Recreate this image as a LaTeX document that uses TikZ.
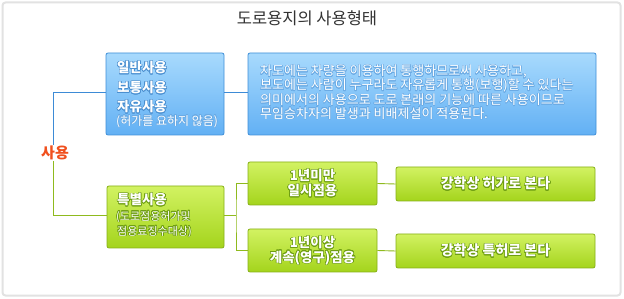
\documentclass[tikz,border=0pt]{standalone}
\usepackage{fontspec}
\setmainfont{Noto Sans CJK KR}
\usepackage[copies]{contour}
\contournumber{16}
\definecolor{bluetop}{HTML}{A8DAFD}
\definecolor{bluebot}{HTML}{62B0F4}
\definecolor{bluebd}{HTML}{3F8FD8}
\definecolor{greentop}{HTML}{D2F262}
\definecolor{greenbot}{HTML}{A4D41C}
\definecolor{greenbd}{HTML}{86B017}
\definecolor{blueln}{HTML}{3D8BD6}
\definecolor{greenln}{HTML}{8FBA1E}
\definecolor{redlab}{HTML}{F0501E}
\definecolor{blueglow}{HTML}{4A8FD0}
\definecolor{bluesoft}{HTML}{6AAAE4}
\definecolor{greenglow}{HTML}{6E9E12}
\definecolor{framegray}{HTML}{E2E2E2}
\definecolor{titlegray}{HTML}{333333}
\newcommand{\bglowtxt}[1]{\contourlength{0.6pt}\contour{blueglow}{#1}}
\newcommand{\bsofttxt}[1]{\contourlength{0.45pt}\contour{bluesoft}{#1}}
\newcommand{\gglowtxt}[1]{\contourlength{0.6pt}\contour{greenglow}{#1}}
\begin{document}
\begin{tikzpicture}[x=1pt,y=-1pt,
  bluebox/.style={draw=bluebd, line width=0.8pt, rounded corners=2pt, top color=bluetop, bottom color=bluebot, inner sep=0pt},
  greenbox/.style={draw=greenbd, line width=0.8pt, rounded corners=2pt, top color=greentop, bottom color=greenbot, inner sep=0pt},
  blueline/.style={draw=blueln, line width=0.9pt},
  greenline/.style={draw=greenln, line width=0.9pt},
  wtext/.style={text=white, inner sep=0pt, font=\bfseries\fontsize{13.5}{15}\selectfont},
  wbig/.style={text=white, inner sep=0pt, font=\bfseries\fontsize{14}{16}\selectfont},
  wsmall/.style={text=white, inner sep=0pt, font=\fontsize{12}{13}\selectfont},
  gsmall/.style={text=white, inner sep=0pt, font=\fontsize{11}{12}\selectfont},
  wbody/.style={text=white, inner sep=0pt, font=\fontsize{13}{14}\selectfont}]
\useasboundingbox (0,0) rectangle (624,299);
\fill[white] (0,0) rectangle (624,299);
\draw[framegray, line width=2pt, rounded corners=3pt] (2.5,2.5) rectangle (620.5,295.5);

\node[text=titlegray, font=\fontsize{16.5}{18}\selectfont, inner sep=0pt] (title) at (307,18) {도로용지의 사용형태};

% boxes
\node[bluebox, minimum width=118pt, minimum height=82pt] (b1) at (165,94) {};
\node[bluebox, minimum width=348pt, minimum height=82pt] (b2) at (422,94) {};
\node[greenbox, minimum width=117pt, minimum height=62pt] (g1) at (165.5,217) {};
\node[greenbox, minimum width=129pt, minimum height=43pt] (g2) at (312.5,183.5) {};
\node[greenbox, minimum width=129pt, minimum height=43pt] (g3) at (312.5,250.5) {};
\node[greenbox, minimum width=199pt, minimum height=34pt] (g4) at (495.5,184) {};
\node[greenbox, minimum width=199pt, minimum height=34pt] (g5) at (495.5,251) {};

% label
\node[text=redlab, font=\bfseries\fontsize{15}{17}\selectfont, inner sep=1pt] (use) at (55,153) {사용};

% texts in blue box 1
\node[wtext, anchor=west] (t11) at (117,68) {\bglowtxt{일반사용}};
\node[wtext, anchor=west] (t12) at (117,88) {\bglowtxt{보통사용}};
\node[wtext, anchor=west] (t13) at (117,107) {\bglowtxt{자유사용}};
\node[wsmall, anchor=west] (t14) at (116,121.5) {\bsofttxt{(허가를 요하지 않음)}};

% texts in blue box 2
\node[wbody, anchor=west] (t21) at (260,72) {\bsofttxt{차도에는 차량을 이용하여 통행하므로써 사용하고,}};
\node[wbody, anchor=west] (t22) at (260,86) {\bsofttxt{보도에는 사람이 누구라도 자유롭게 통행(보행)할 수 있다는}};
\node[wbody, anchor=west] (t23) at (260,100) {\bsofttxt{의미에서의 사용으로 도로 본래의 기능에 따른 사용이므로}};
\node[wbody, anchor=west] (t24) at (260,113.5) {\bsofttxt{무임승차자의 발생과 비배제설이 적용된다.}};

% texts in green box 1
\node[wtext, anchor=west] (t31) at (117,200) {\gglowtxt{특별사용}};
\node[gsmall, anchor=west] (t32) at (116,217) {\gglowtxt{(도로점용허가및}};
\node[gsmall, anchor=west] (t33) at (117,232) {\gglowtxt{점용료징수대상)}};

% green box 2,3
\node[wtext] (t41) at (g2.center) [yshift=7.5pt] {\gglowtxt{1년미만}};
\node[wtext] (t42) at (g2.center) [yshift=-7.5pt] {\gglowtxt{일시점용}};
\node[wtext] (t51) at (g3.center) [yshift=7.5pt] {\gglowtxt{1년이상}};
\node[wtext] (t52) at (g3.center) [yshift=-7.5pt] {\gglowtxt{계속(영구)점용}};

% green box 4,5
\node[wbig] (t61) at (g4.center) {\gglowtxt{강학상 허가로 본다}};
\node[wbig] (t71) at (g5.center) {\gglowtxt{강학상 특허로 본다}};

% connectors
\draw[blueline] (b1.east |- 0,92) -- (b2.west |- 0,92);
\draw[blueline] ([xshift=-2pt]use.north) |- (b1.west |- 0,92);
\draw[greenline] ([xshift=-2pt]use.south) |- (g1.west |- 0,215);
\coordinate (jn) at (236,215);
\draw[greenline] (g1.east |- jn) -- (jn);
\draw[greenline] (g2.west) -| (jn) |- (g3.west);
\draw[greenline] (g2.east) -- (g4.west);
\draw[greenline] (g3.east) -- (g5.west);
\end{tikzpicture}
\end{document}
